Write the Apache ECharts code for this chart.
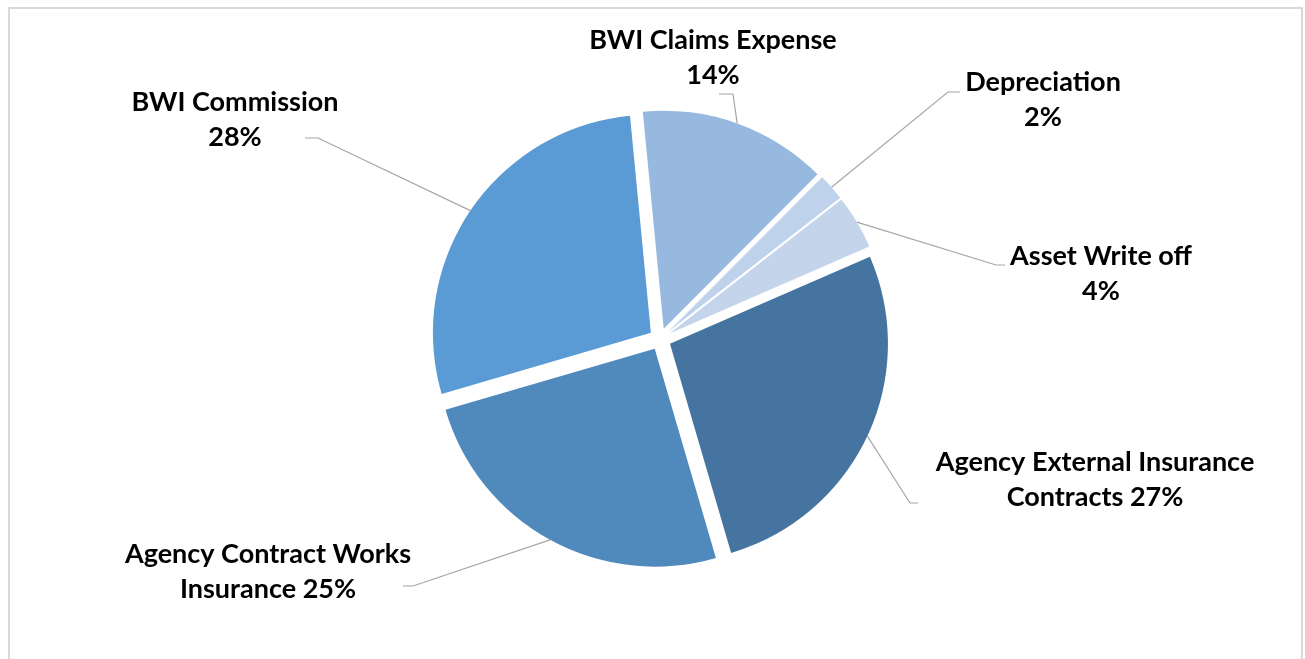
<!DOCTYPE html>
<html>
<head>
<meta charset="utf-8">
<title>Expense breakdown</title>
<script src="https://cdn.jsdelivr.net/npm/echarts@6/dist/echarts.min.js"></script>
<style>
  html, body { margin: 0; padding: 0; background: #ffffff; }
  #chart { width: 1305px; height: 659px; }
</style>
</head>
<body>
<div id="chart"></div>
<script>
// Expense categories, clockwise from the top
const categories = [
  'BWI Claims Expense',
  'Depreciation',
  'Asset Write off',
  'Agency External Insurance Contracts',
  'Agency Contract Works Insurance',
  'BWI Commission'
];
// Share of total expense (%)
const shares = [14, 2, 4, 27, 25, 28];
// Slice fills
const sliceColors = ['#98B9DF', '#BFD2EB', '#C4D5EB', '#44749F', '#5089BC', '#5B9BD5'];

// Label placement: text block centre and leader line bend/end points
const labelPlacement = [
  { x: 713,  y: 58,  bend: [733, 94],  end: [719, 94] },
  { x: 1043, y: 100, bend: [948, 92],  end: [960, 92] },
  { x: 1101, y: 274, bend: [996, 265], end: [1005, 265] },
  { x: 1095, y: 480, bend: [910, 503], end: [918, 503] },
  { x: 268,  y: 572, bend: [413, 586], end: [403, 586] },
  { x: 235,  y: 120, bend: [318, 138], end: [305, 138] }
];

// Pie geometry shared by the slice layer and the label layer
const PIE_CENTER = [660, 339];
const PIE_RADIUS = 218;
const EXPLODE = 11;
const START_ANGLE = 95.5;

// Long names wrap so the last word sits with the percentage
function labelText(name, pct) {
  const words = name.split(' ');
  if (words.length >= 4) {
    return words.slice(0, -1).join(' ') + '\n' + words[words.length - 1] + ' ' + pct + '%';
  }
  return name + '\n' + pct + '%';
}

const chart = echarts.init(document.getElementById('chart'), null, { renderer: 'canvas' });

const option = {
  animation: false,
  backgroundColor: '#ffffff',
  graphic: [{
    type: 'rect',
    shape: { x: 9, y: 8, width: 1293, height: 700 },
    style: { fill: 'none', stroke: '#d9d9d9', lineWidth: 2 },
    silent: true
  }],
  series: [
    {
      // Exploded slices
      name: 'slices',
      type: 'pie',
      center: PIE_CENTER,
      radius: PIE_RADIUS,
      startAngle: START_ANGLE,
      clockwise: true,
      selectedMode: 'multiple',
      selectedOffset: EXPLODE,
      silent: true,
      emphasis: { disabled: true },
      itemStyle: { borderWidth: 0 },
      label: { show: false },
      labelLine: { show: false },
      data: categories.map(function (name, i) {
        return {
          name: name,
          value: shares[i],
          selected: true,
          itemStyle: { color: sliceColors[i] }
        };
      })
    },
    {
      // Data labels with leader lines from the exploded rim
      name: 'labels',
      type: 'pie',
      center: PIE_CENTER,
      radius: PIE_RADIUS + EXPLODE,
      startAngle: START_ANGLE,
      clockwise: true,
      silent: true,
      avoidLabelOverlap: false,
      emphasis: { disabled: true },
      itemStyle: { color: 'rgba(0,0,0,0)', borderWidth: 0 },
      label: {
        show: true,
        position: 'outside',
        fontFamily: 'Lato',
        fontWeight: 'bold',
        fontSize: 27,
        lineHeight: 35,
        color: '#000000',
        align: 'center',
        formatter: function (p) {
          return labelText(p.name, Math.round(p.percent));
        }
      },
      labelLine: {
        show: true,
        length: 20,
        length2: 10,
        lineStyle: { color: '#a6a6a6', width: 1.2 }
      },
      labelLayout: function (params) {
        const pl = labelPlacement[params.dataIndex];
        const pts = params.labelLinePoints;
        return {
          x: pl.x,
          y: pl.y,
          align: 'center',
          verticalAlign: 'middle',
          labelLinePoints: [pts[0], pl.bend, pl.end]
        };
      },
      data: categories.map(function (name, i) {
        return { name: name, value: shares[i] };
      })
    }
  ]
};

chart.setOption(option);
</script>
</body>
</html>
